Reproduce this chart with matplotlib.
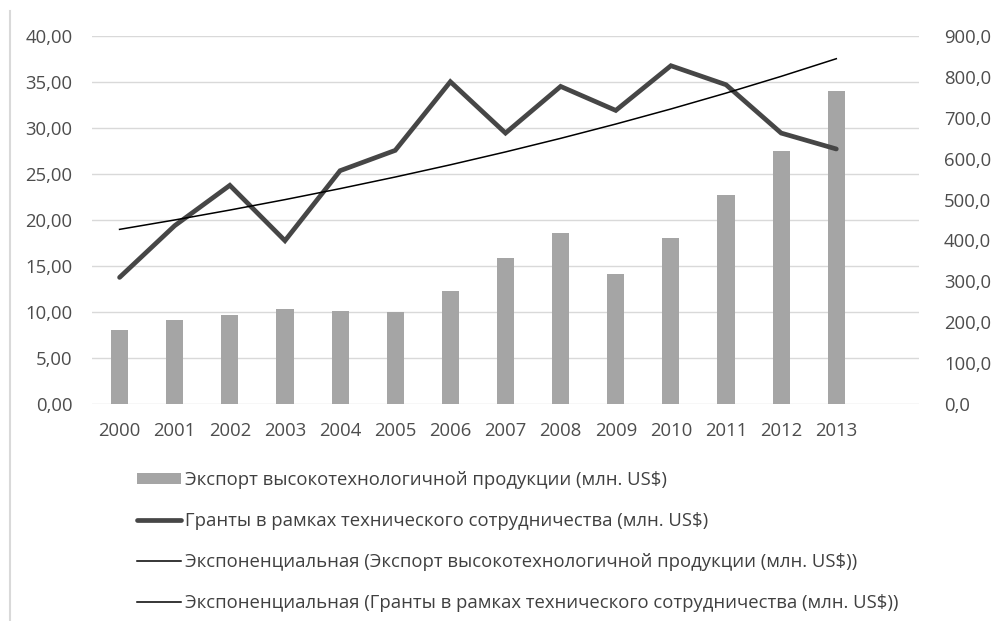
import numpy as np
import matplotlib
matplotlib.use('Agg')
import matplotlib.pyplot as plt
from matplotlib.ticker import FuncFormatter, MultipleLocator
from matplotlib.lines import Line2D
from matplotlib.patches import Patch

plt.rcParams['font.family'] = ['Open Sans', 'DejaVu Sans']

# Data
years = ['2000', '2001', '2002', '2003', '2004', '2005', '2006',
         '2007', '2008', '2009', '2010', '2011', '2012', '2013']
export_values = [8.08, 9.13, 9.67, 10.28, 10.07, 9.96, 12.28,
                 15.90, 18.58, 14.16, 18.04, 22.67, 27.53, 34.05]
grant_values = [309.6, 436.1, 534.8, 399.4, 570.6, 620.3, 788.2,
                662.6, 776.7, 718.0, 827.3, 780.8, 662.6, 623.7]

export_label = 'Экспорт высокотехнологичной продукции (млн. US$)'
grant_label = 'Гранты в рамках технического сотрудничества (млн. US$)'
export_trend_label = 'Экспоненциальная (Экспорт высокотехнологичной продукции (млн. US$))'
grant_trend_label = 'Экспоненциальная (Гранты в рамках технического сотрудничества (млн. US$))'

BAR_COLOR = '#A5A5A5'
LINE_COLOR = '#464646'
GRID_COLOR = '#D9D9D9'
TEXT_COLOR = '#4D4D4D'
FS = 13.3

x = np.arange(len(years))

# Exponential trend (Excel-style: least squares on log values)
b, a = np.polyfit(x, np.log(grant_values), 1)
grant_trend = np.exp(a + b * x)

fig = plt.figure(figsize=(9.96, 6.21), dpi=100)
ax = fig.add_axes([92 / 996, 1 - 404 / 621, (919 - 92) / 996, (404 - 36) / 621])
ax2 = ax.twinx()

ax.bar(x, export_values, width=0.31, color=BAR_COLOR, zorder=2)
ax.set_xlim(-0.5, 14.5)
ax.set_ylim(0, 40)
ax.yaxis.set_major_locator(MultipleLocator(5))
ax.yaxis.set_major_formatter(FuncFormatter(lambda v, p: f'{v:.2f}'.replace('.', ',')))
ax.grid(axis='y', color=GRID_COLOR, linewidth=1.0, zorder=0)
ax.set_axisbelow(True)
ax.set_xticks(x)
ax.set_xticklabels(years)

ax2.plot(x, grant_values, color=LINE_COLOR, linewidth=3.4,
         solid_capstyle='round', solid_joinstyle='miter', zorder=3)
ax2.plot(x, grant_trend, color='black', linewidth=1.1, zorder=4)
ax2.set_ylim(0, 900)
ax2.yaxis.set_major_locator(MultipleLocator(100))
ax2.yaxis.set_major_formatter(FuncFormatter(lambda v, p: f'{v:.1f}'.replace('.', ',')))

for a_ in (ax, ax2):
    for side in ('top', 'left', 'right', 'bottom'):
        a_.spines[side].set_visible(False)
    a_.tick_params(length=0, labelsize=FS, labelcolor=TEXT_COLOR)
ax.tick_params(axis='y', pad=14)
ax.tick_params(axis='x', pad=13)
ax2.tick_params(axis='y', pad=18)

# chart border fragment on the left
fig.add_artist(Line2D([9.5 / 996, 9.5 / 996], [0, 1 - 11 / 621],
                      color=GRID_COLOR, linewidth=1.5))

handles = [
    Patch(facecolor=BAR_COLOR, edgecolor='none'),
    Line2D([], [], color=LINE_COLOR, linewidth=3.4, solid_capstyle='round'),
    Line2D([], [], color='black', linewidth=1.1),
    Line2D([], [], color='black', linewidth=1.1),
]
labels = [export_label, grant_label, export_trend_label, grant_trend_label]
leg = fig.legend(handles, labels, loc='upper left',
                 bbox_to_anchor=(137 / 996, 1 - 471 / 621),
                 frameon=False, fontsize=FS, labelspacing=1.24,
                 handlelength=2.38, handleheight=0.55, handletextpad=0.22,
                 borderpad=0, borderaxespad=0)
for t in leg.get_texts():
    t.set_color('#404040')

fig.savefig('out.png', dpi=100)
